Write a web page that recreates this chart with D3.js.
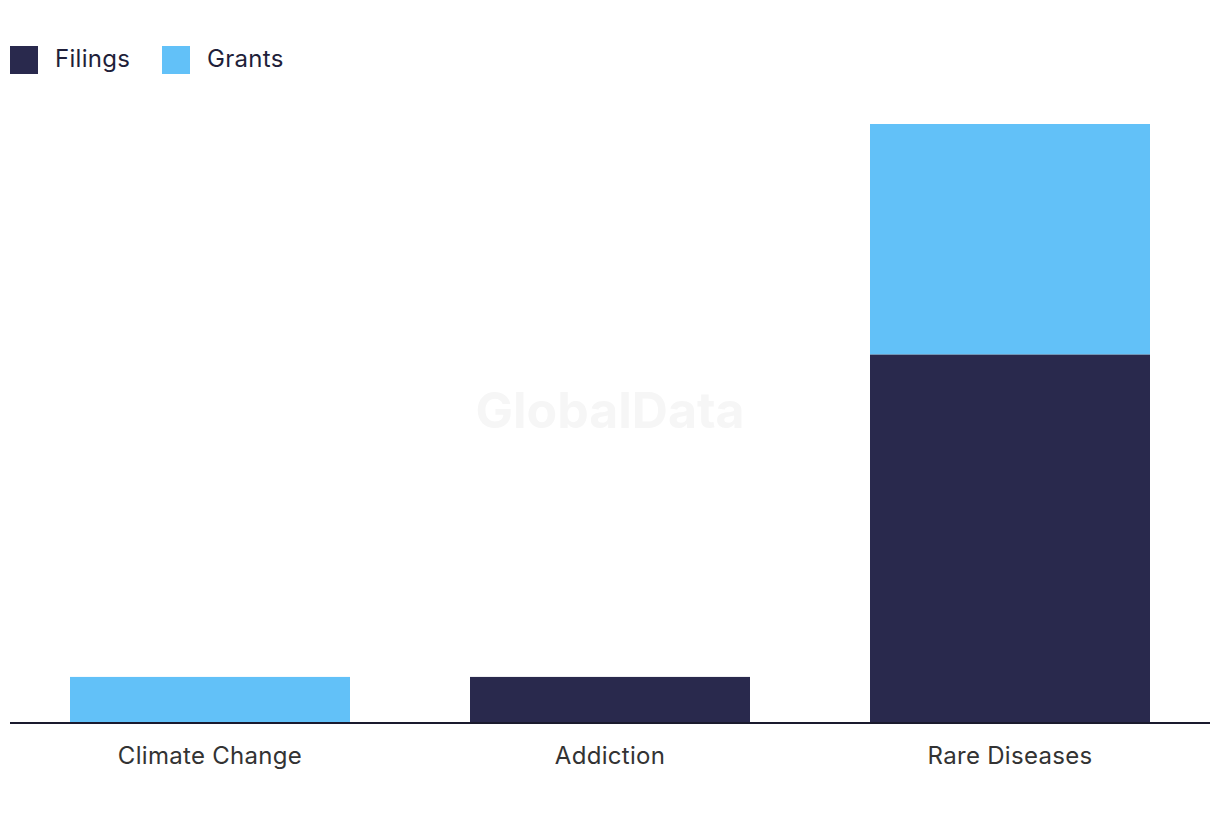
<!DOCTYPE html>
<html><head><meta charset="utf-8">
<script src="https://cdn.jsdelivr.net/npm/d3@7"></script>
<style>
html,body{margin:0;padding:0;background:#fff;}
text{font-family:"Inter","Roboto",sans-serif;}
</style></head>
<body>
<svg id="chart" width="1220" height="820"></svg>
<script>
const categories = ["Climate Change", "Addiction", "Rare Diseases"];
const seriesNames = ["Filings", "Grants"];
const filings = [0, 1, 8];
const grants = [1, 0, 5];
const colors = ["#29294d", "#62c1f8"];

(function () {
const svg = d3.select("#chart");
const mLeft = 10, mRight = 1210, baseY = 723, topY = 124;

const data = categories.map((c, i) => ({cat: c, Filings: filings[i], Grants: grants[i]}));
const stacked = d3.stack().keys(seriesNames)(data);

const x = d3.scaleBand().domain(categories).range([mLeft, mRight]).paddingInner(0.3).paddingOuter(0.15);
const maxV = d3.max(data, d => d.Filings + d.Grants);
const y = d3.scaleLinear().domain([0, maxV]).range([baseY, topY]);

// watermark
svg.append("text").attr("x", 610).attr("y", 428).attr("text-anchor", "middle")
  .attr("font-size", 50).attr("font-weight", 700).attr("fill", "#f6f6f6").text("GlobalData");

svg.append("g").selectAll("g").data(stacked).join("g")
  .attr("fill", (d, i) => colors[i])
  .selectAll("rect").data(d => d).join("rect")
  .attr("x", d => x(d.data.cat))
  .attr("width", x.bandwidth())
  .attr("y", d => y(d[1]))
  .attr("height", d => y(d[0]) - y(d[1]));

// baseline axis
const xAxis = d3.axisBottom(x).tickSize(0).tickPadding(24);
const ax = svg.append("g").attr("transform", `translate(0,${baseY})`).call(xAxis);
ax.select(".domain").attr("stroke", "#1a1a2e").attr("stroke-width", 2).attr("d", `M${mLeft},0H${mRight}`);
ax.selectAll(".tick text").attr("font-size", 24).attr("fill", "#333").attr("letter-spacing", 0.3)
  .attr("font-family", "Inter, Roboto, sans-serif");

// legend
const legend = svg.append("g");
const lx = [10, 162];
seriesNames.forEach((s, i) => {
  legend.append("rect").attr("x", lx[i]).attr("y", 46).attr("width", 28).attr("height", 28).attr("fill", colors[i]);
  legend.append("text").attr("x", lx[i] + 45).attr("y", 67).attr("font-size", 24).attr("letter-spacing", 0.3)
    .attr("fill", "#1f1f3a").text(s);
});
})();
</script>
</body></html>
